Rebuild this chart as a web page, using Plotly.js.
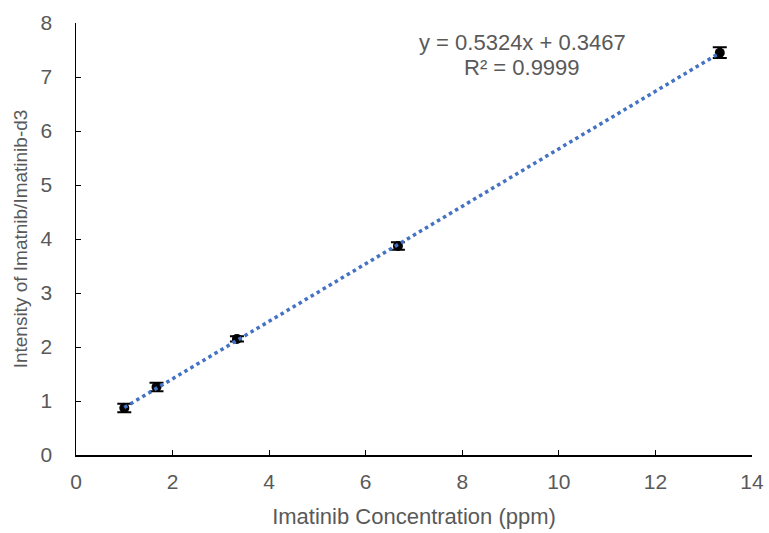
<!DOCTYPE html>
<html>
<head>
<meta charset="utf-8">
<script src="https://cdn.plot.ly/plotly-3.0.1.min.js"></script>
<style>html,body{margin:0;padding:0;background:#fff;}#chart{width:769px;height:533px;}</style>
</head>
<body>
<div id="chart"></div>
<script>
const concentration = [1.0, 1.667, 3.333, 6.667, 13.333];
const intensity = [0.87, 1.26, 2.15, 3.87, 7.45];
const errorValues = [0.08, 0.08, 0.05, 0.07, 0.1];
const trendX = [1.0, 13.333];
const trendY = [0.879, 7.445];
const equationText = "y = 0.5324x + 0.3467";
const r2Text = "R² = 0.9999";
const xTicks = [0, 2, 4, 6, 8, 10, 12, 14];
const yTicks = [0, 1, 2, 3, 4, 5, 6, 7, 8];

const fam = "Liberation Sans, Arial, sans-serif";
const tickFont = {family: fam, color: "#595959", size: 21};
const xTitleFont = {family: fam, color: "#595959", size: 22};
const yTitleFont = {family: fam, color: "#595959", size: 19};
const eqFont = {family: fam, color: "#595959", size: 22};

const traces = [
  {
    x: concentration, y: intensity, mode: "markers", type: "scatter",
    marker: {color: "#000000", size: 10},
    error_y: {type: "data", array: errorValues, visible: true, color: "#000000", thickness: 2, width: 7},
    showlegend: false
  },
  {
    x: trendX, y: trendY, mode: "lines", type: "scatter",
    line: {color: "#4472C4", width: 3.5, dash: "dot"},
    hoverinfo: "skip", showlegend: false
  }
];

const layout = {
  width: 769, height: 533,
  margin: {l: 76, r: 17, t: 23, b: 78},
  paper_bgcolor: "#ffffff", plot_bgcolor: "#ffffff",
  font: tickFont,
  xaxis: {
    range: [0, 14], tickvals: xTicks, showgrid: false, zeroline: false,
    showline: true, linecolor: "#000000", linewidth: 1.5,
    ticks: "inside", ticklen: 5, tickcolor: "#000000",
    tickfont: tickFont, ticklabelstandoff: 7,
    title: {text: "Imatinib Concentration (ppm)", font: xTitleFont, standoff: 17}
  },
  yaxis: {
    range: [0, 8], tickvals: yTicks, showgrid: false, zeroline: false,
    showline: true, linecolor: "#000000", linewidth: 1.5,
    ticks: "inside", ticklen: 5, tickcolor: "#000000",
    tickfont: tickFont, ticklabelstandoff: 18,
    title: {text: "Intensity of Imatnib/Imatinib-d3", font: yTitleFont, standoff: 8}
  },
  annotations: [
    {x: 0.66, y: 0.956, xref: "paper", yref: "paper", text: equationText, showarrow: false, font: eqFont, xanchor: "center", yanchor: "middle"},
    {x: 0.66, y: 0.898, xref: "paper", yref: "paper", text: r2Text, showarrow: false, font: eqFont, xanchor: "center", yanchor: "middle"}
  ]
};

Plotly.newPlot("chart", traces, layout, {displayModeBar: false, staticPlot: true});
</script>
</body>
</html>
